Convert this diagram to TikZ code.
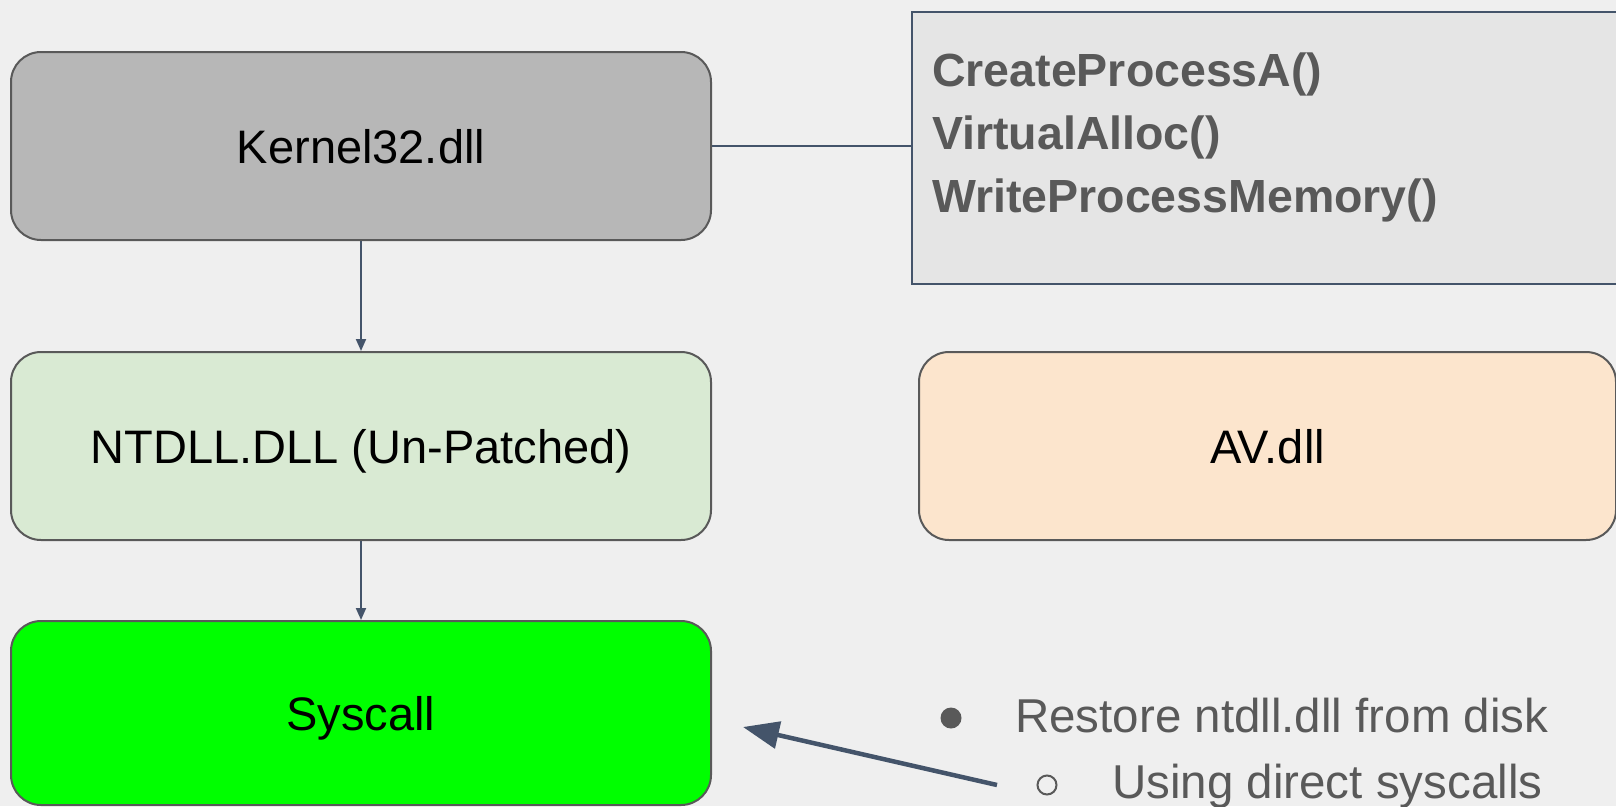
\documentclass[tikz,border=0pt]{standalone}
\usepackage{fontspec}
\setmainfont{Liberation Sans}
\usetikzlibrary{arrows.meta}
\definecolor{bg}{HTML}{EFEFEF}
\definecolor{edge}{HTML}{595959}
\definecolor{slate}{HTML}{44546A}
\definecolor{kfill}{HTML}{B7B7B7}
\definecolor{nfill}{HTML}{D9EAD3}
\definecolor{sfill}{HTML}{00FF00}
\definecolor{afill}{HTML}{FCE5CD}
\definecolor{lfill}{HTML}{E5E5E5}
\definecolor{note}{HTML}{595959}
\begin{document}
\begin{tikzpicture}[x=1pt,y=-1pt,
  dllbox/.style={draw=edge, line width=2pt, rounded corners=30pt,
    minimum width=700pt, minimum height=188pt, inner sep=0pt,
    text height=44pt, text depth=9pt,
    font=\fontsize{47pt}{56pt}\selectfont},
  listbox/.style={draw=slate, line width=1.5pt, fill=lfill, inner sep=0pt},
  fname/.style={anchor=base west, inner sep=0pt, text=note,
    font=\fontsize{46.5pt}{56pt}\selectfont\bfseries},
  bullettext/.style={anchor=base west, inner sep=0pt, text=note,
    font=\fontsize{47.5pt}{56pt}\selectfont},
  flow/.style={draw=slate, line width=2pt, -{Triangle[length=12pt,width=10pt]}},
  link/.style={draw=slate, line width=1.5pt},
  bigarrow/.style={draw=slate, line width=4.5pt, -{Triangle[length=36pt,width=27pt]}}]

\fill[bg] (0,0) rectangle (1616,806);
\useasboundingbox (0,0) rectangle (1616,806);

% call stack
\node[dllbox, fill=kfill] (k) at (361,146) {Kernel32.dll};
\node[dllbox, fill=nfill] (n) at (361,446) {NTDLL.DLL (Un-Patched)};
\node[dllbox, fill=sfill, minimum height=184pt] (s) at (361,713) {Syscall};
\node[dllbox, fill=afill, minimum width=697pt] (av) at (1267.5,446) {AV.dll};

\draw[flow] (k.south) -- (n.north);
\draw[flow] (n.south) -- (s.north);

% hooked API list
\node[listbox, anchor=north west, minimum width=720pt, minimum height=272pt] (calls) at (911,11) {};
\draw[link] (k.east) -- (k.east -| calls.west);
\node[fname] (f1) at (932,86) {CreateProcessA()};
\node[fname] (f2) at (932,149) {VirtualAlloc()};
\node[fname] (f3) at (932,212) {WriteProcessMemory()};

% notes
\node[circle, fill=note, minimum size=21pt, inner sep=0pt] (b1) at (951,718) {};
\node[bullettext] (t1) at (1015,732) {Restore ntdll.dll from disk};
\node[circle, draw=note, line width=2pt, minimum size=19pt, inner sep=0pt] (b2) at (1047,785) {};
\node[bullettext] (t2) at (1112,798) {Using direct syscalls};

\coordinate (tail) at (997,785);
\coordinate (tip) at (743,727);
\draw[bigarrow] (tail) -- (tip);
\end{tikzpicture}
\end{document}
